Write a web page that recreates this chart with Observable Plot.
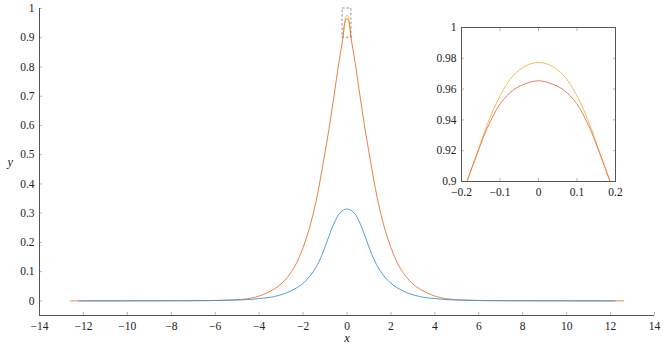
<!DOCTYPE html>
<html><head><meta charset="utf-8">
<script src="https://cdn.jsdelivr.net/npm/d3@7"></script>
<script src="https://cdn.jsdelivr.net/npm/@observablehq/plot@0.6"></script>
<style>
body{margin:0;background:#fff;}
#wrap{position:relative;width:664px;height:347px;overflow:hidden;}
#inset{position:absolute;left:421px;top:17px;}
</style></head><body><div id="wrap"><div id="main"></div><div id="inset"></div></div>
<script>
// ---- data ----
const xTicks = [-14, -12, -10, -8, -6, -4, -2, 0, 2, 4, 6, 8, 10, 12, 14];
const yTicks = [0, 0.1, 0.2, 0.3, 0.4, 0.5, 0.6, 0.7, 0.8, 0.9, 1];
const xDomain = [-14, 14];
const yDomain = [-0.05, 1];

const orangeX = [-12.6, -10, -8, -6, -5, -4.4, -3.94, -3.33, -3, -2.72, -2.35, -2, -1.74, -1.55, -1.36, -1.09, -0.83, -0.6, -0.37, -0.186, -0.151, -0.134, -0.0995, -0.065, -0.03, 0,
                 0.03, 0.065, 0.0995, 0.134, 0.151, 0.186, 0.37, 0.6, 0.83, 1.09, 1.36, 1.55, 1.74, 2, 2.35, 2.72, 3, 3.33, 3.94, 4.4, 5, 6, 8, 10, 12.6];
const orangeY = [0, 0.0002, 0.0005, 0.0015, 0.004, 0.009, 0.018, 0.040, 0.058, 0.080, 0.122, 0.182, 0.241, 0.295, 0.358, 0.469, 0.583, 0.697, 0.815, 0.9, 0.9235, 0.9342, 0.9505, 0.9595, 0.9638, 0.9654,
                 0.9638, 0.9595, 0.9505, 0.9342, 0.9235, 0.9, 0.815, 0.697, 0.583, 0.469, 0.358, 0.295, 0.241, 0.182, 0.122, 0.080, 0.058, 0.040, 0.018, 0.009, 0.004, 0.0015, 0.0005, 0.0002, 0];

const blueX = [-12.2, -10, -8, -6, -5, -4.4, -4, -3.6, -3.3, -3, -2.7, -2.4, -2.1, -1.8, -1.5, -1.2, -0.9, -0.6, -0.3, 0,
               0.3, 0.6, 0.9, 1.2, 1.5, 1.8, 2.1, 2.4, 2.7, 3, 3.3, 3.6, 4, 4.4, 5, 6, 8, 10, 12.2];
const blueY = [0, 0.0002, 0.0005, 0.0012, 0.003, 0.005, 0.008, 0.011, 0.015, 0.021, 0.029, 0.040, 0.054, 0.075, 0.104, 0.146, 0.205, 0.264, 0.303, 0.314,
               0.303, 0.264, 0.205, 0.146, 0.104, 0.075, 0.054, 0.040, 0.029, 0.021, 0.015, 0.011, 0.008, 0.005, 0.003, 0.0012, 0.0005, 0.0002, 0];

const zoomX = [-0.186, -0.151, -0.134, -0.0995, -0.065, -0.03, 0, 0.03, 0.065, 0.0995, 0.134, 0.151, 0.186];
const yellowY = [0.9, 0.9245, 0.9364, 0.9558, 0.969, 0.9755, 0.9773, 0.9755, 0.969, 0.9558, 0.9364, 0.9245, 0.9];
const redY = [0.9, 0.9235, 0.9342, 0.9505, 0.9595, 0.9638, 0.9654, 0.9638, 0.9595, 0.9505, 0.9342, 0.9235, 0.9];

const insetXDomain = [-0.2, 0.2];
const insetYDomain = [0.9, 1];
const insetXTicks = [-0.2, -0.1, 0, 0.1, 0.2];
const insetYTicks = [0.9, 0.92, 0.94, 0.96, 0.98, 1];

// ---- styles ----
const font = "Liberation Serif, DejaVu Serif, serif";
const fs = 11.5;
const cBlue = "#3d93d6", cOrange = "#e8732c", cYellow = "#f1b53a", cRed = "#e2704c";
const axisColor = "#555", tickColor = "#b8b8b8", textColor = "#222";
const fmt = d3.format("~g");

const toRows = (xs, ys) => xs.map((x, i) => ({x, y: ys[i]}));
const txt = {fontFamily: font, fontSize: fs, fill: textColor};

const main = Plot.plot({
  width: 664, height: 347,
  marginLeft: 39, marginRight: 10, marginTop: 8, marginBottom: 32,
  style: {fontFamily: font, fontSize: fs + "px", color: textColor, background: "white", overflow: "visible"},
  x: {domain: xDomain, label: null},
  y: {domain: yDomain, label: null},
  marks: [
    Plot.axisX(xTicks, {tickSize: -3, tickPadding: 9, stroke: tickColor, tickFormat: fmt, ...txt}),
    Plot.axisY(yTicks, {tickSize: -3, tickPadding: 8, stroke: tickColor, tickFormat: fmt, ...txt}),
    Plot.ruleX([xDomain[0]], {stroke: axisColor, strokeWidth: 1}),
    Plot.ruleY([yDomain[0]], {stroke: axisColor, strokeWidth: 1}),
    Plot.line(toRows(zoomX, yellowY), {x: "x", y: "y", stroke: cYellow, strokeWidth: 0.9, curve: "catmull-rom"}),
    Plot.line(toRows(orangeX, orangeY), {x: "x", y: "y", stroke: cOrange, strokeWidth: 0.9, curve: "catmull-rom"}),
    Plot.line(toRows(blueX, blueY), {x: "x", y: "y", stroke: cBlue, strokeWidth: 0.9, curve: "catmull-rom"}),
    Plot.rect([{x1: insetXDomain[0], x2: insetXDomain[1], y1: insetYDomain[0], y2: insetYDomain[1]}],
      {x1: "x1", x2: "x2", y1: "y1", y2: "y2", fill: "none", stroke: "#777", strokeWidth: 0.8, strokeDasharray: "2.5,2"}),
    Plot.text(["x"], {frameAnchor: "bottom", dy: 26, fontStyle: "italic", ...txt, fontSize: 12.5}),
    Plot.text(["y"], {frameAnchor: "left", dx: -32, fontStyle: "italic", ...txt, fontSize: 12.5})
  ]
});
document.getElementById("main").appendChild(main);

const inset = Plot.plot({
  width: 204, height: 184,
  marginLeft: 40, marginRight: 10, marginTop: 10, marginBottom: 20,
  style: {fontFamily: font, fontSize: fs + "px", color: textColor, background: "transparent", overflow: "visible"},
  x: {domain: insetXDomain, label: null},
  y: {domain: insetYDomain, label: null},
  marks: [
    Plot.axisX(insetXTicks, {tickSize: -3, tickPadding: 9, stroke: tickColor, tickFormat: fmt, ...txt}),
    Plot.axisX(insetXTicks, {anchor: "top", tickSize: -3, stroke: tickColor, tickFormat: () => ""}),
    Plot.axisY(insetYTicks, {tickSize: -3, tickPadding: 8, stroke: tickColor, tickFormat: fmt, ...txt}),
    Plot.axisY(insetYTicks, {anchor: "right", tickSize: -3, stroke: tickColor, tickFormat: () => ""}),
    Plot.line(toRows(zoomX, yellowY), {x: "x", y: "y", stroke: cYellow, strokeWidth: 0.9, curve: "catmull-rom", clip: true}),
    Plot.line(toRows(zoomX, redY), {x: "x", y: "y", stroke: cRed, strokeWidth: 0.9, curve: "catmull-rom", clip: true}),
    Plot.frame({stroke: axisColor, strokeWidth: 1})
  ]
});
document.getElementById("inset").appendChild(inset);
</script>
</body></html>
